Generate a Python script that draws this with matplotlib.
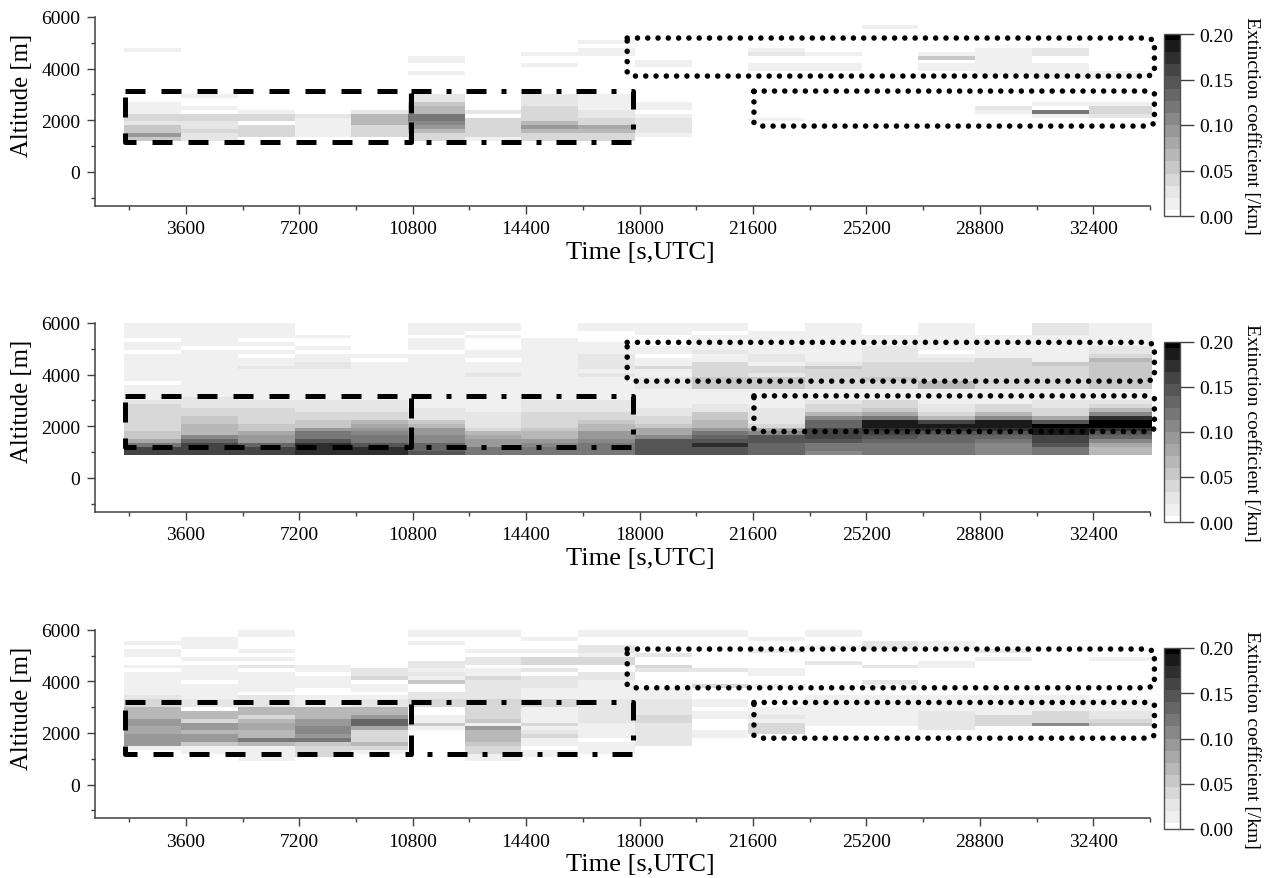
import numpy as np
import matplotlib
matplotlib.use("Agg")
import matplotlib.pyplot as plt
from matplotlib.colors import ListedColormap, BoundaryNorm
from matplotlib.ticker import FixedLocator, FormatStrFormatter
from matplotlib.lines import Line2D

plt.rcParams['font.family'] = ['Liberation Serif', 'DejaVu Serif']

TIME_EDGES = [1650, 3450, 5250, 7050, 8850, 10650, 12450, 14250, 16050, 17850,
              19650, 21450, 23250, 25050, 26850, 28650, 30450, 32250, 34250]
ALT_EDGES = list(range(900, 6001, 150))
X_MAJOR = [3600, 7200, 10800, 14400, 18000, 21600, 25200, 28800, 32400]
X_MINOR = [1800, 5400, 9000, 12600, 16200, 19800, 23400, 27000, 30600, 34200]
Y_MAJOR = [0, 2000, 4000, 6000]
Y_MINOR = [-1000, 1000, 3000, 5000]
CB_TICKS = [0.00, 0.05, 0.10, 0.15, 0.20]
GRAYS = [255, 240, 230, 216, 200, 184, 168, 153, 136, 119, 102, 85, 68, 46, 26, 0]
LEVEL_STEP = 0.2 / 15

# each column: (altitude low, altitude high, colour-scale level)
PANEL1 = [
    [(1200,1350,4),(1350,1500,7),(1500,1800,4),(1800,1950,2),(1950,2250,3),(2250,2700,1),(4650,4800,1)],
    [(1200,1500,2),(1500,1650,3),(1650,1950,2),(1950,2250,3),(2400,2550,1),(2850,3000,1)],
    [(1350,1800,3),(1950,2250,3),(2250,2400,1)],
    [(1350,2100,1),(2100,2250,2)],
    [(1350,1800,3),(1800,2250,5),(2250,2400,2)],
    [(1200,1500,3),(1500,1650,5),(1650,1800,7),(1800,1950,8),(1950,2250,9),(2250,2550,5),(2550,2700,4),(2700,3000,2),(3750,3900,1),(4200,4500,1)],
    [(1200,1350,1),(1350,2100,3),(2250,2400,2)],
    [(1200,1500,3),(1500,1650,5),(1650,1800,7),(1800,1950,5),(1950,2550,3),(2550,3000,2),(4050,4200,1),(4500,4650,1)],
    [(1200,1500,3),(1500,1650,5),(1650,1800,6),(1800,2100,3),(2100,2400,2),(2400,3000,1),(4500,4800,1),(4950,5100,1)],
    [(1350,1500,1),(1500,2100,2),(2100,2250,1),(2400,2700,1),(4050,4350,1)],
    [],
    [(1950,2100,1),(3900,4200,1),(4500,4650,2),(4650,4800,1)],
    [(3900,4050,1),(4050,4200,1),(4500,4650,1)],
    [(5550,5700,1)],
    [(3900,4200,1),(4350,4500,4),(4500,4650,1)],
    [(2250,2400,1),(2400,2550,2),(3750,4800,1)],
    [(2100,2250,1),(2250,2400,9),(2550,2700,1),(3600,4200,1),(4500,4800,2)],
    [(2100,2250,2),(2250,2550,3),(2550,2700,1),(3600,3900,1)],
]
PANEL2 = [
    [(900,1200,12),(1200,1350,9),(1350,1500,6),(1500,1800,4),(1800,2850,3),(2850,3000,2),(3000,3600,1),(3750,4800,1),(4950,5250,1),(5400,6000,1)],
    [(900,1350,12),(1350,1500,10),(1500,1650,8),(1650,2100,5),(2100,2400,4),(2400,2700,3),(2700,3150,2),(3150,4950,1),(5100,6000,1)],
    [(900,1200,12),(1200,1350,10),(1350,1650,7),(1650,1800,6),(1800,2100,4),(2100,2700,3),(2700,3000,2),(3000,4200,1),(4200,4350,2),(4350,4650,1),(4800,4950,1),(5100,5250,1),(5400,6000,1)],
    [(900,1350,13),(1350,1500,11),(1500,1800,9),(1800,1950,7),(1950,2250,4),(2250,2550,3),(2550,3000,2),(3000,4200,1),(4200,4500,2),(4500,4800,1),(4950,5100,1),(5400,5550,1)],
    [(900,1200,13),(1200,1350,11),(1350,1650,9),(1650,1800,8),(1800,1950,7),(1950,2100,6),(2100,2250,5),(2250,2550,3),(2550,3000,2),(3000,4500,1),(4650,4800,1)],
    [(900,1050,11),(1050,1350,10),(1350,1650,8),(1650,1950,7),(1950,2100,5),(2100,2250,4),(2250,2700,2),(2700,4800,1),(4950,5400,1),(5550,6000,1)],
    [(900,1200,9),(1200,1500,7),(1500,1650,6),(1650,1800,5),(1800,1950,3),(1950,2550,2),(2550,3900,1),(3900,4050,2),(4050,4500,1),(4650,4950,1),(5400,5550,1),(5700,6000,1)],
    [(900,1200,9),(1200,1350,8),(1350,1500,7),(1500,1800,5),(1800,1950,4),(1950,2550,3),(2550,3000,2),(3000,5400,1)],
    [(900,1350,9),(1350,1500,8),(1500,1800,7),(1800,2100,5),(2100,2250,4),(2250,2550,3),(2550,3000,2),(3000,3900,1),(3900,4050,2),(4050,4200,1),(4200,4800,2),(4800,5250,1),(5700,6000,1)],
    [(900,1500,11),(1500,1650,8),(1650,1950,6),(1950,2100,4),(2100,2400,3),(2400,2700,2),(2700,3450,1),(3450,3900,2),(3900,4200,1),(4200,4350,3),(4350,4650,1),(4800,5100,1),(5550,6000,1)],
    [(900,1200,11),(1200,1350,13),(1350,1500,11),(1500,1650,10),(1650,1800,9),(1800,1950,7),(1950,2250,5),(2250,2550,4),(2550,2850,2),(2850,3450,1),(3450,3900,4),(3900,4500,3),(4500,4800,1),(4800,4950,2),(4950,5550,1),(5700,6000,1)],
    [(900,1350,10),(1350,1650,11),(1650,1800,8),(1800,1950,6),(1950,2100,3),(2100,2700,2),(2700,3450,1),(3450,3900,4),(3900,4050,2),(4050,4350,3),(4350,4500,1),(4500,4800,2),(4800,5700,1)],
    [(900,1050,8),(1050,1350,9),(1350,1500,11),(1500,1950,12),(1950,2250,10),(2250,2400,8),(2400,2550,5),(2550,2850,3),(2850,3000,2),(3000,3450,1),(3450,4200,3),(4200,4350,4),(4350,4500,2),(4500,6000,1)],
    [(900,1350,9),(1350,1500,10),(1500,1650,11),(1650,1800,12),(1800,1950,13),(1950,2250,14),(2250,2400,9),(2400,2550,6),(2550,2700,4),(2700,3000,3),(3000,3450,1),(3450,3750,3),(3750,3900,4),(3900,4500,3),(4500,5100,2),(5100,5550,1)],
    [(900,1350,9),(1350,1650,10),(1650,1800,11),(1800,1950,13),(1950,2100,14),(2100,2250,12),(2250,2400,5),(2400,2550,3),(2550,2850,2),(2850,3450,1),(3450,3750,5),(3750,4500,3),(4500,4650,2),(4650,4800,1),(4950,6000,1)],
    [(900,1350,8),(1350,1500,9),(1500,1650,10),(1650,1800,11),(1800,1950,13),(1950,2250,14),(2250,2400,8),(2400,2550,5),(2550,2850,3),(2850,3450,1),(3450,4650,3),(4650,5550,1)],
    [(900,1200,9),(1200,1350,11),(1350,1650,12),(1650,1950,14),(1950,2100,15),(2100,2250,11),(2250,2400,6),(2400,2700,3),(2700,3000,2),(3000,3450,1),(3450,4350,3),(4350,4500,4),(4500,5550,1),(5550,6000,2)],
    [(900,1200,5),(1200,1350,6),(1350,1500,8),(1500,1650,10),(1650,1800,11),(1800,1950,13),(1950,2250,15),(2250,2400,13),(2400,2550,8),(2550,2700,5),(2700,2850,3),(2850,3000,2),(3000,3450,1),(3450,4500,4),(4500,4650,5),(4650,4800,3),(4800,5100,2),(5100,6000,1)],
]
PANEL3 = [
    [(1350,1500,1),(1500,1950,7),(1950,2250,6),(2250,2550,7),(2550,3000,5),(3000,3300,3),(3300,3450,2),(3450,4350,1),(4500,4650,1),(4950,5250,1),(5400,5550,1)],
    [(1200,1500,1),(1500,1650,4),(1650,1950,7),(1950,2100,5),(2100,2400,7),(2400,2550,3),(2550,2850,5),(3000,3300,2),(3300,3900,1),(4050,4650,1),(4800,4950,1),(5250,5700,1)],
    [(900,1500,1),(1500,1650,5),(1650,1800,9),(1800,2100,5),(2100,2400,6),(2400,2550,5),(2550,2700,3),(2700,3000,5),(3000,3450,2),(3600,4350,1),(4500,4650,2),(4800,4950,1),(5100,5250,1),(5700,6000,1)],
    [(1050,1500,3),(1500,1650,4),(1650,1800,9),(1800,1950,7),(1950,2250,8),(2250,2550,7),(2550,3000,5),(3000,3450,1),(3750,4200,1),(4350,4650,1)],
    [(1200,1350,1),(1350,1500,3),(1500,1650,5),(1650,2100,3),(2100,2250,6),(2250,2550,10),(2550,2700,7),(2700,3000,5),(3000,3300,2),(3300,3450,1),(3600,3900,1),(4050,4200,3),(4200,4500,2)],
    [(2100,2250,1),(2250,2400,4),(2400,2700,1),(3000,3300,3),(3300,3600,2),(3900,4050,4),(4050,4200,1),(4200,4350,2),(4350,4500,1),(4500,4800,2),(5400,5550,1),(5700,6000,1)],
    [(900,1200,1),(1200,1500,3),(1500,1650,4),(1650,2100,5),(2100,2250,7),(2250,2400,1),(2400,2550,4),(2550,3300,3),(3300,4050,2),(4050,4200,3),(4200,4500,1),(4650,4950,2),(5100,5250,1),(5700,6000,1)],
    [(1050,1350,1),(1500,1800,1),(1800,1950,3),(1950,2100,2),(2100,2250,1),(2250,2400,3),(2400,3000,1),(3000,3300,3),(3300,3750,1),(3750,4200,2),(4350,4500,2),(4650,4950,3),(5100,5250,1),(5550,5700,1)],
    [(1200,1650,1),(1800,2400,1),(2400,2700,2),(2700,3300,2),(3300,4050,1),(4050,4350,2),(4650,4950,3),(4950,5100,1),(5100,5400,2),(5700,6000,1)],
    [(1500,2100,2),(2100,2400,2),(2400,2700,3),(2700,3300,2),(3300,3750,1),(4350,4500,2),(4500,4650,3),(4950,5100,2),(5700,6000,1)],
    [(1800,2100,1),(2550,2850,1),(3000,3300,1),(3750,3900,3),(4350,4500,2),(5700,6000,1)],
    [(1950,2400,3),(2400,2550,1),(2550,2700,2),(2700,3000,1),(3750,3900,1),(4200,4500,1),(5100,5250,2),(5550,5700,1)],
    [(2250,3450,1),(4650,4800,2),(5250,5400,1),(5700,6000,1)],
    [(2250,3450,1),(3750,3900,1),(3900,4050,2),(4500,4650,2),(5250,5550,2)],
    [(2100,2850,2),(2850,3450,1),(4500,4800,1),(5250,5550,1)],
    [(2250,2700,3),(2700,3450,1),(4800,4950,1),(5100,5250,2)],
    [(2250,2400,8),(2400,2850,3),(2850,3450,1)],
    [(2250,2400,4),(2400,2550,3),(2550,2850,2),(2850,3300,1),(4800,4950,1)],
]
PANELS = [PANEL1, PANEL2, PANEL3]

# region boxes per panel: (bottom altitude, top altitude)
DASH_Y = [(1135, 3127), (1200, 3177), (1200, 3180)]
DOT_UPPER_Y = [(3710, 5184), (3748, 5250), (3748, 5250)]
DOT_LOWER_Y = [(1770, 3127), (1796, 3177), (1796, 3180)]
BOX_T = [1660, 10750, 17800]
DOT_UPPER_T = (17607, 34340)
DOT_LOWER_T = (21630, 34340)

W, H = 1271, 879
AX_PX = [(18, 206.5), (324, 512.7), (630.7, 819.3)]
CB_PX = [(35, 217), (343, 523), (649, 830)]

cmap = ListedColormap([(g/255, g/255, g/255) for g in GRAYS])
bounds = [0.0] + [(k + 0.5) * LEVEL_STEP for k in range(15)] + [0.2]
norm = BoundaryNorm(bounds, cmap.N)

TICK_FS = 14
XLABEL_FS = 19
YLABEL_FS = 17.8
SPINE = '#404040'

fig = plt.figure(figsize=(W/100, H/100), dpi=100)

def build_grid(panel):
    grid = np.zeros((len(ALT_EDGES) - 1, len(TIME_EDGES) - 1))
    for c, segments in enumerate(panel):
        for lo, hi, level in segments:
            i0 = int(round((lo - ALT_EDGES[0]) / 150))
            i1 = int(round((hi - ALT_EDGES[0]) / 150))
            grid[i0:i1, c] = level * LEVEL_STEP
    return grid

def box(ax, t0, t1, z0, z1, ls, lw=3.6, chamfer=False):
    if chamfer:
        dt, dz = 190, 110
        xs = [t0, t1 - dt, t1, t1, t1 - dt, t0 + dt, t0, t0]
        ys = [z1, z1, z1 - dz, z0 + dz, z0, z0, z0 + dz, z1]
        cap = 'round'
    else:
        xs = [t0, t1, t1, t0, t0]
        ys = [z1, z1, z0, z0, z1]
        cap = 'butt'
    ax.add_line(Line2D(xs, ys, color='black', lw=lw, ls=ls, clip_on=False,
                       dash_capstyle=cap, dash_joinstyle='round', zorder=5))

DASHED = (0, (4.0, 3.2))
DASHDOT = (0, (4.0, 3.0, 1.0, 3.0))
DOTTED = (0, (0.001, 1.85))

for n, panel in enumerate(PANELS):
    top, bot = AX_PX[n]
    ax = fig.add_axes([95/W, 1 - bot/H, (1150 - 95)/W, (bot - top)/H])
    mesh = ax.pcolormesh(TIME_EDGES, ALT_EDGES, build_grid(panel), cmap=cmap, norm=norm,
                         antialiased=False, linewidth=0, clip_on=False)
    ax.set_xlim(716, 34200)
    ax.set_ylim(-1310, 6000)
    for s in ('top', 'right'):
        ax.spines[s].set_visible(False)
    for s in ('left', 'bottom'):
        ax.spines[s].set_color(SPINE)
        ax.spines[s].set_linewidth(1.1)
    ax.xaxis.set_major_locator(FixedLocator(X_MAJOR))
    ax.xaxis.set_minor_locator(FixedLocator(X_MINOR))
    ax.yaxis.set_major_locator(FixedLocator(Y_MAJOR))
    ax.yaxis.set_minor_locator(FixedLocator(Y_MINOR))
    ax.tick_params(which='major', length=5.5, width=1.0, labelsize=TICK_FS, color=SPINE)
    ax.tick_params(which='minor', length=3, width=1.0, color=SPINE)
    ax.tick_params(axis='x', which='major', pad=5)
    ax.tick_params(axis='y', which='major', pad=5)
    ax.set_xlabel('Time [s,UTC]', fontsize=XLABEL_FS)
    ax.xaxis.set_label_coords(0.5166, -0.186)
    ax.set_ylabel('Altitude [m]', fontsize=YLABEL_FS)
    ax.yaxis.set_label_coords(-0.0585, 0.59)

    z0, z1 = DASH_Y[n]
    box(ax, BOX_T[0], BOX_T[1], z0, z1, DASHED)
    box(ax, BOX_T[1], BOX_T[2], z0, z1, DASHDOT)
    z0, z1 = DOT_UPPER_Y[n]
    box(ax, DOT_UPPER_T[0], DOT_UPPER_T[1], z0, z1, DOTTED, lw=4.0, chamfer=True)
    z0, z1 = DOT_LOWER_Y[n]
    box(ax, DOT_LOWER_T[0], DOT_LOWER_T[1], z0, z1, DOTTED, lw=4.0, chamfer=True)

    ctop, cbot = CB_PX[n]
    cax = fig.add_axes([1163.6/W, 1 - cbot/H, (1180 - 1163.6)/W, (cbot - ctop)/H])
    cb = fig.colorbar(mesh, cax=cax, spacing='proportional', ticks=CB_TICKS,
                      format=FormatStrFormatter('%.2f'))
    cb.outline.set_edgecolor('#505050')
    cb.outline.set_linewidth(1.0)
    cb.ax.minorticks_off()
    cb.ax.tick_params(length=10, width=1.0, labelsize=TICK_FS, pad=4, color=SPINE)
    cb.set_label('Extinction coefficient [/km]', rotation=270, fontsize=TICK_FS)
    cb.ax.yaxis.set_label_coords(5.35, 0.5)
    cb.ax.yaxis.label.set_verticalalignment('center')

fig.savefig('out.png', dpi=100)
